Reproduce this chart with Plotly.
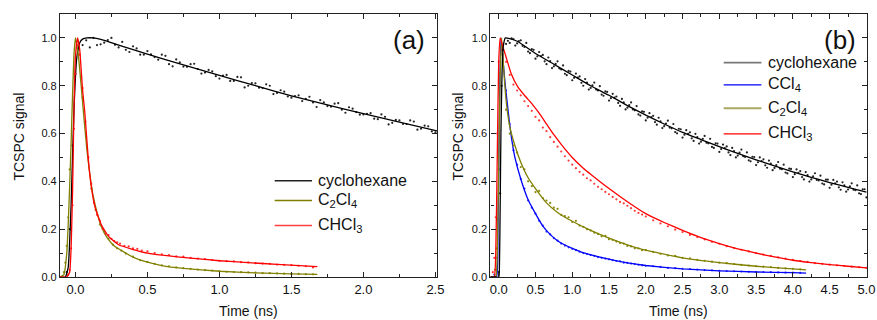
import plotly.graph_objects as go

# ---------------- Panel (a) data ----------------
a_cyc_fit_x = [-0.107, -0.07, -0.05, -0.03, -0.01, 0.01, 0.03, 0.05, 0.08, 0.12, 0.2, 0.3, 0.5, 0.75, 1.0, 1.25, 1.5, 1.75, 2.0, 2.25, 2.511]
a_cyc_fit_y = [0.0, 0.0, 0.04, 0.3, 0.7, 0.92, 0.98, 0.995, 1.0, 1.0, 0.99, 0.97, 0.932, 0.887, 0.843, 0.80, 0.758, 0.72, 0.683, 0.648, 0.611]
a_cyc_dot_x = [-0.06, -0.04, -0.02, 0.0, 0.05, 0.1, 0.15, 0.2, 0.25, 0.3, 0.35, 0.4, 0.45, 0.5, 0.55, 0.6, 0.65, 0.7, 0.75, 0.8, 0.85, 0.9, 0.95, 1.0,
               1.05, 1.1, 1.15, 1.2, 1.25, 1.3, 1.35, 1.4, 1.45, 1.5, 1.55, 1.6, 1.65, 1.7, 1.75, 1.8, 1.85, 1.9, 1.95, 2.0,
               2.05, 2.1, 2.15, 2.2, 2.25, 2.3, 2.35, 2.4, 2.45, 2.5,
               0.075, 0.125, 0.175, 0.225, 0.275, 0.325, 0.375, 0.425, 0.475, 0.525, 0.575, 0.625, 0.675, 0.725, 0.775, 0.825, 0.875, 0.925, 0.975,
               1.025, 1.075, 1.125, 1.175, 1.225, 1.275, 1.325, 1.375, 1.425, 1.475, 1.525, 1.575, 1.625, 1.675, 1.725, 1.775, 1.825, 1.875, 1.925, 1.975,
               2.025, 2.075, 2.125, 2.175, 2.225, 2.275, 2.325, 2.375, 2.425, 2.475]
a_cyc_dot_y = [0.02, 0.2, 0.55, 0.85, 0.97, 0.96, 0.97, 0.98, 1.0, 0.96, 0.95, 0.965, 0.93, 0.945, 0.92, 0.93, 0.89, 0.91, 0.88, 0.89, 0.87, 0.855, 0.86, 0.83,
               0.845, 0.82, 0.835, 0.80, 0.81, 0.79, 0.80, 0.77, 0.775, 0.75, 0.76, 0.745, 0.73, 0.74, 0.715, 0.725, 0.70, 0.71, 0.69, 0.68,
               0.685, 0.66, 0.67, 0.645, 0.655, 0.64, 0.65, 0.62, 0.63, 0.605,
               0.99, 1.0, 0.973, 0.991, 0.971, 0.983, 0.941, 0.956, 0.93, 0.931, 0.909, 0.925, 0.881, 0.898, 0.879, 0.892, 0.851, 0.866, 0.84,
               0.842, 0.82, 0.837, 0.793, 0.811, 0.792, 0.806, 0.765, 0.781, 0.755, 0.757, 0.736, 0.754, 0.711, 0.73, 0.712, 0.727, 0.687, 0.704, 0.679,
               0.682, 0.662, 0.68, 0.638, 0.657, 0.64, 0.655, 0.616, 0.633, 0.609]

a_c2cl4_fit_x = [-0.107, -0.08, -0.06, -0.05, -0.04, -0.03, -0.02, -0.01, 0.0, 0.02, 0.04, 0.06, 0.08, 0.1, 0.12, 0.15, 0.18, 0.22, 0.27, 0.3, 0.35, 0.4, 0.5, 0.6, 0.75, 1.0, 1.25, 1.5, 1.68]
a_c2cl4_fit_y = [0.0, 0.01, 0.1, 0.22, 0.38, 0.56, 0.76, 0.93, 1.0, 0.93, 0.8, 0.66, 0.53, 0.43, 0.35, 0.27, 0.21, 0.165, 0.13, 0.118, 0.10, 0.083, 0.062, 0.048, 0.036, 0.024, 0.017, 0.013, 0.011]
a_c2cl4_dot_x = [-0.09, -0.08, -0.07, -0.06, -0.05, -0.04, 0.02, 0.05, 0.08, 0.11, 0.14, 0.17, 0.2, 0.23, 0.26, 0.29, 0.32, 0.35, 0.4, 0.45, 0.5, 0.55, 0.6, 0.65, 0.7, 0.75, 0.8,
                 0.85, 0.9, 0.95, 1.0, 1.05, 1.1, 1.15, 1.2, 1.25, 1.3, 1.35, 1.4, 1.45, 1.5, 1.55, 1.6, 1.65]
a_c2cl4_dot_y = [0.0, 0.02, 0.06, 0.13, 0.25, 0.45, 0.93, 0.75, 0.54, 0.37, 0.28, 0.22, 0.19, 0.16, 0.135, 0.12, 0.11, 0.098, 0.085, 0.07, 0.063, 0.055, 0.049, 0.045, 0.04, 0.037, 0.034,
                 0.031, 0.029, 0.027, 0.025, 0.022, 0.021, 0.02, 0.019, 0.018, 0.016, 0.016, 0.015, 0.014, 0.013, 0.013, 0.012, 0.011]

a_chcl3_fit_x = [-0.107, -0.06, -0.04, -0.03, -0.02, -0.01, 0.0, 0.015, 0.03, 0.05, 0.065, 0.09, 0.11, 0.135, 0.18, 0.23, 0.3, 0.39, 0.5, 0.65, 0.8, 1.0, 1.2, 1.4, 1.68]
a_chcl3_fit_y = [0.0, 0.0, 0.02, 0.12, 0.35, 0.7, 0.92, 1.0, 0.95, 0.78, 0.69, 0.49, 0.38, 0.295, 0.218, 0.17, 0.135, 0.117, 0.10, 0.088, 0.079, 0.068, 0.06, 0.053, 0.043]
a_chcl3_dot_x = [-0.05, -0.04, -0.03, -0.02, -0.01, 0.0, 0.01, 0.03, 0.05, 0.07, 0.09, 0.11, 0.13, 0.15, 0.17, 0.19, 0.21, 0.23, 0.25, 0.27, 0.29, 0.31, 0.34, 0.37, 0.4,
                 0.43, 0.46, 0.5, 0.55, 0.6, 0.65, 0.7, 0.75, 0.8, 0.85, 0.9, 0.95, 1.0, 1.05, 1.1, 1.15, 1.2, 1.25, 1.3, 1.35, 1.4, 1.45, 1.5, 1.55, 1.6, 1.65]
a_chcl3_dot_y = [0.01, 0.03, 0.12, 0.3, 0.62, 0.85, 0.97, 0.93, 0.79, 0.65, 0.5, 0.39, 0.31, 0.26, 0.235, 0.2, 0.18, 0.175, 0.16, 0.15, 0.145, 0.14, 0.13, 0.128, 0.12,
                 0.118, 0.11, 0.107, 0.10, 0.095, 0.092, 0.086, 0.085, 0.08, 0.077, 0.075, 0.071, 0.068, 0.066, 0.065, 0.062, 0.061, 0.058, 0.056, 0.055, 0.052, 0.051, 0.05, 0.047, 0.045, 0.04]

# ---------------- Panel (b) data ----------------
b_cyc_fit_x = [-0.113, 0.0, 0.01, 0.02, 0.03, 0.045, 0.06, 0.09, 0.15, 0.26, 0.5, 0.75, 1.0, 1.25, 1.5, 1.75, 2.0, 2.25, 2.5, 2.75, 3.0, 3.25, 3.5, 3.75, 4.0, 4.25, 4.5, 4.75, 5.0]
b_cyc_fit_y = [0.0, 0.0, 0.05, 0.3, 0.6, 0.85, 0.96, 1.0, 0.997, 0.985, 0.935, 0.89, 0.845, 0.80, 0.76, 0.717, 0.677, 0.64, 0.605, 0.575, 0.545, 0.517, 0.49, 0.465, 0.44, 0.417, 0.395, 0.375, 0.355]
b_cyc_dot_x = [-0.05, 0.0, 0.02, 0.04, 0.06, 0.1, 0.15, 0.2, 0.25, 0.3, 0.35, 0.4, 0.45, 0.5, 0.55, 0.6, 0.65, 0.7, 0.75, 0.8, 0.85, 0.9, 0.95, 1.0,
               1.05, 1.1, 1.15, 1.2, 1.25, 1.3, 1.35, 1.4, 1.45, 1.5, 1.55, 1.6, 1.65, 1.7, 1.75, 1.8, 1.85, 1.9, 1.95, 2.0,
               2.05, 2.1, 2.15, 2.2, 2.25, 2.3, 2.35, 2.4, 2.45, 2.5, 2.55, 2.6, 2.65, 2.7, 2.75, 2.8, 2.85, 2.9, 2.95, 3.0,
               3.05, 3.1, 3.15, 3.2, 3.25, 3.3, 3.35, 3.4, 3.45, 3.5, 3.55, 3.6, 3.65, 3.7, 3.75, 3.8, 3.85, 3.9, 3.95, 4.0,
               4.05, 4.1, 4.15, 4.2, 4.25, 4.3, 4.35, 4.4, 4.45, 4.5, 4.55, 4.6, 4.65, 4.7, 4.75, 4.8, 4.85, 4.9, 4.95, 5.0,
               0.125, 0.175, 0.225, 0.275, 0.325, 0.375, 0.425, 0.475, 0.525, 0.575, 0.625, 0.675, 0.725, 0.775, 0.825, 0.875, 0.925, 0.975,
               1.025, 1.075, 1.125, 1.175, 1.225, 1.275, 1.325, 1.375, 1.425, 1.475, 1.525, 1.575, 1.625, 1.675, 1.725, 1.775, 1.825, 1.875, 1.925, 1.975,
               2.025, 2.075, 2.125, 2.175, 2.225, 2.275, 2.325, 2.375, 2.425, 2.475, 2.525, 2.575, 2.625, 2.675, 2.725, 2.775, 2.825, 2.875, 2.925, 2.975,
               3.025, 3.075, 3.125, 3.175, 3.225, 3.275, 3.325, 3.375, 3.425, 3.475, 3.525, 3.575, 3.625, 3.675, 3.725, 3.775, 3.825, 3.875, 3.925, 3.975,
               4.025, 4.075, 4.125, 4.175, 4.225, 4.275, 4.325, 4.375, 4.425, 4.475, 4.525, 4.575, 4.625, 4.675, 4.725, 4.775, 4.825, 4.875, 4.925, 4.975]
b_cyc_dot_y = [0.0, 0.02, 0.35, 0.8, 0.95, 0.975, 0.979, 0.995, 0.977, 0.99, 0.962, 0.943, 0.953, 0.913, 0.941, 0.929, 0.89, 0.903, 0.881, 0.902, 0.868, 0.85, 0.862, 0.823,
               0.851, 0.839, 0.80, 0.813, 0.791, 0.813, 0.78, 0.763, 0.776, 0.738, 0.766, 0.755, 0.716, 0.73, 0.708, 0.73, 0.697, 0.68, 0.693, 0.655,
               0.685, 0.674, 0.637, 0.651, 0.631, 0.654, 0.622, 0.606, 0.62, 0.583, 0.614, 0.605, 0.569, 0.585, 0.566, 0.59, 0.559, 0.544, 0.559, 0.523,
               0.554, 0.546, 0.51, 0.527, 0.508, 0.533, 0.502, 0.488, 0.503, 0.468, 0.50, 0.492, 0.457, 0.474, 0.456, 0.481, 0.451, 0.437, 0.453, 0.418,
               0.45, 0.443, 0.408, 0.426, 0.408, 0.434, 0.404, 0.391, 0.407, 0.373, 0.406, 0.399, 0.365, 0.383, 0.366, 0.392, 0.363, 0.35, 0.367, 0.333,
               0.988, 0.998, 0.968, 0.987, 0.967, 0.979, 0.936, 0.95, 0.923, 0.924, 0.902, 0.918, 0.874, 0.891, 0.872, 0.885, 0.844, 0.859,
               0.833, 0.834, 0.812, 0.828, 0.784, 0.802, 0.784, 0.798, 0.758, 0.774, 0.748, 0.75, 0.728, 0.745, 0.701, 0.719, 0.701, 0.715, 0.675, 0.691,
               0.666, 0.669, 0.648, 0.666, 0.623, 0.642, 0.625, 0.64, 0.601, 0.618, 0.595, 0.599, 0.58, 0.599, 0.558, 0.578, 0.562, 0.578, 0.54, 0.558,
               0.535, 0.539, 0.521, 0.54, 0.50, 0.52, 0.505, 0.521, 0.484, 0.502, 0.48, 0.485, 0.467, 0.487, 0.447, 0.468, 0.453, 0.47, 0.433, 0.452,
               0.43, 0.436, 0.418, 0.439, 0.399, 0.421, 0.406, 0.424, 0.387, 0.407, 0.386, 0.392, 0.375, 0.396, 0.357, 0.379, 0.365, 0.383, 0.347, 0.367]

b_ccl4_fit_x = [-0.113, -0.03, -0.01, 0.01, 0.03, 0.06, 0.09, 0.13, 0.17, 0.22, 0.3, 0.4, 0.5, 0.6, 0.72, 0.8, 0.9, 1.0, 1.17, 1.42, 1.75, 2.0, 2.5, 3.0, 3.5, 4.0, 4.18]
b_ccl4_fit_y = [0.0, 0.0, 0.2, 0.7, 1.0, 0.9, 0.8, 0.69, 0.59, 0.5, 0.41, 0.323, 0.265, 0.213, 0.172, 0.152, 0.134, 0.12, 0.10, 0.08, 0.059, 0.048, 0.034, 0.026, 0.021, 0.018, 0.016]
b_ccl4_dot_x = [-0.06, -0.04, -0.02, 0.0, 0.05, 0.1, 0.15, 0.2, 0.25, 0.3, 0.35, 0.4, 0.45, 0.5, 0.55, 0.6, 0.65, 0.7, 0.75, 0.8, 0.85, 0.9, 0.95, 1.0,
                1.05, 1.1, 1.15, 1.2, 1.25, 1.3, 1.35, 1.4, 1.45, 1.5, 1.55, 1.6, 1.65, 1.7, 1.75, 1.8, 1.85, 1.9, 1.95, 2.0,
                2.1, 2.2, 2.3, 2.4, 2.5, 2.6, 2.7, 2.8, 2.9, 3.0, 3.1, 3.2, 3.3, 3.4, 3.5, 3.6, 3.7, 3.8, 3.9, 4.0, 4.1]
b_ccl4_dot_y = [0.01, 0.08, 0.24, 0.45, 0.95, 0.78, 0.64, 0.53, 0.47, 0.41, 0.37, 0.32, 0.29, 0.265, 0.235, 0.215, 0.19, 0.178, 0.162, 0.152, 0.14, 0.131, 0.124, 0.118,
                0.112, 0.106, 0.10, 0.096, 0.092, 0.088, 0.083, 0.08, 0.077, 0.074, 0.07, 0.067, 0.065, 0.06, 0.059, 0.056, 0.054, 0.051, 0.049, 0.047,
                0.045, 0.042, 0.038, 0.037, 0.034, 0.033, 0.031, 0.029, 0.028, 0.026, 0.025, 0.024, 0.023, 0.022, 0.021, 0.021, 0.02, 0.019, 0.018, 0.018, 0.017]

b_c2cl4_fit_x = [-0.113, -0.04, -0.02, 0.0, 0.02, 0.04, 0.07, 0.1, 0.15, 0.22, 0.3, 0.4, 0.5, 0.65, 0.8, 1.0, 1.25, 1.5, 1.9, 2.5, 3.0, 3.5, 4.0, 4.18]
b_c2cl4_fit_y = [0.0, 0.0, 0.1, 0.45, 0.85, 1.0, 0.86, 0.74, 0.63, 0.55, 0.48, 0.415, 0.37, 0.31, 0.27, 0.233, 0.195, 0.163, 0.12, 0.08, 0.06, 0.045, 0.034, 0.03]
b_c2cl4_dot_x = [-0.05, -0.03, -0.01, 0.01, 0.05, 0.1, 0.15, 0.2, 0.25, 0.3, 0.35, 0.4, 0.45, 0.5, 0.55, 0.6, 0.65, 0.7, 0.75, 0.8, 0.85, 0.9, 0.95, 1.0,
                 1.05, 1.1, 1.15, 1.2, 1.25, 1.3, 1.35, 1.4, 1.45, 1.5, 1.55, 1.6, 1.65, 1.7, 1.75, 1.8, 1.85, 1.9, 1.95, 2.0,
                 2.1, 2.2, 2.3, 2.4, 2.5, 2.6, 2.7, 2.8, 2.9, 3.0, 3.1, 3.2, 3.3, 3.4, 3.5, 3.6, 3.7, 3.8, 3.9, 4.0, 4.1]
b_c2cl4_dot_y = [0.03, 0.12, 0.5, 0.85, 0.93, 0.70, 0.60, 0.55, 0.52, 0.46, 0.45, 0.40, 0.38, 0.355, 0.36, 0.33, 0.32, 0.31, 0.29, 0.285, 0.26, 0.255, 0.25, 0.23,
                 0.235, 0.215, 0.21, 0.20, 0.195, 0.185, 0.18, 0.17, 0.172, 0.158, 0.155, 0.148, 0.142, 0.14, 0.13, 0.128, 0.12, 0.12, 0.112, 0.112,
                 0.105, 0.097, 0.09, 0.088, 0.08, 0.078, 0.072, 0.068, 0.064, 0.06, 0.058, 0.054, 0.051, 0.048, 0.045, 0.043, 0.041, 0.038, 0.036, 0.034, 0.032]

b_chcl3_fit_x = [-0.113, -0.06, -0.04, -0.02, 0.0, 0.02, 0.05, 0.1, 0.17, 0.26, 0.35, 0.45, 0.55, 0.65, 0.75, 0.85, 1.0, 1.15, 1.25, 1.5, 1.75, 2.0, 2.25, 2.5, 2.75, 3.0, 3.25, 3.5, 3.75, 4.0, 4.25, 4.5, 4.75, 5.0]
b_chcl3_fit_y = [0.0, 0.0, 0.1, 0.5, 0.9, 1.0, 0.97, 0.92, 0.85, 0.795, 0.76, 0.725, 0.685, 0.64, 0.595, 0.555, 0.50, 0.455, 0.43, 0.37, 0.315, 0.265, 0.228, 0.195, 0.165, 0.14, 0.118, 0.10, 0.084, 0.07, 0.06, 0.052, 0.045, 0.038]
b_chcl3_dot_x = [-0.08, -0.06, -0.04, -0.02, 0.0, 0.05, 0.1, 0.15, 0.2, 0.25, 0.3, 0.35, 0.4, 0.45, 0.5, 0.55, 0.6, 0.65, 0.7, 0.75, 0.8, 0.85, 0.9, 0.95, 1.0,
                 1.05, 1.1, 1.15, 1.2, 1.25, 1.3, 1.35, 1.4, 1.45, 1.5, 1.55, 1.6, 1.65, 1.7, 1.75, 1.8, 1.85, 1.9, 1.95, 2.0,
                 2.1, 2.2, 2.3, 2.4, 2.5, 2.6, 2.7, 2.8, 2.9, 3.0, 3.1, 3.2, 3.3, 3.4, 3.5, 3.6, 3.7, 3.8, 3.9, 4.0,
                 4.1, 4.2, 4.3, 4.4, 4.5, 4.6, 4.7, 4.8, 4.9, 5.0]
b_chcl3_dot_y = [0.02, 0.08, 0.25, 0.6, 0.9, 0.95, 0.90, 0.845, 0.805, 0.78, 0.76, 0.735, 0.715, 0.695, 0.67, 0.655, 0.625, 0.61, 0.585, 0.565, 0.545, 0.525, 0.505, 0.487, 0.47,
                 0.455, 0.44, 0.428, 0.413, 0.404, 0.39, 0.377, 0.367, 0.356, 0.346, 0.335, 0.325, 0.314, 0.308, 0.298, 0.288, 0.277, 0.268, 0.261, 0.253,
                 0.237, 0.224, 0.212, 0.198, 0.188, 0.176, 0.167, 0.157, 0.147, 0.139, 0.129, 0.121, 0.114, 0.107, 0.10, 0.094, 0.088, 0.082, 0.077, 0.072,
                 0.067, 0.063, 0.058, 0.055, 0.052, 0.049, 0.046, 0.043, 0.041, 0.038]

# ---------------- Text ----------------
legend_a = ["cyclohexane", "C<sub>2</sub>Cl<sub>4</sub>", "CHCl<sub>3</sub>"]
legend_b = ["cyclohexane", "CCl<sub>4</sub>", "C<sub>2</sub>Cl<sub>4</sub>", "CHCl<sub>3</sub>"]
panel_labels = ["(a)", "(b)"]
x_title = "Time (ns)"
y_title = "TCSPC signal"

# ---------------- Styles ----------------
BLACK = "#000000"
OLIVE = "#808000"
RED = "#ff0000"
BLUE = "#0000ff"
FONT = "Liberation Sans"
W, H = 877, 320
ML, MR, MT, MB = 60.3, 9.7, 14.0, 42.7
PW, PH = W - ML - MR, H - MT - MB

fig = go.Figure()


def add_series(xd, yd, xf, yf, color, dotcolor, xa, ya):
    fig.add_trace(go.Scatter(x=xd, y=yd, mode="markers", xaxis=xa, yaxis=ya,
                             marker=dict(size=2.2, color=dotcolor), showlegend=False, hoverinfo="skip"))
    fig.add_trace(go.Scatter(x=xf, y=yf, mode="lines", xaxis=xa, yaxis=ya,
                             line=dict(color=color, width=1.3, shape="spline", smoothing=0.4), showlegend=False))


# panel a
add_series(a_cyc_dot_x, a_cyc_dot_y, a_cyc_fit_x, a_cyc_fit_y, BLACK, "#222222", "x", "y")
add_series(a_c2cl4_dot_x, a_c2cl4_dot_y, a_c2cl4_fit_x, a_c2cl4_fit_y, OLIVE, "#8a8a10", "x", "y")
add_series(a_chcl3_dot_x, a_chcl3_dot_y, a_chcl3_fit_x, a_chcl3_fit_y, RED, "#ff3030", "x", "y")
# panel b
add_series(b_ccl4_dot_x, b_ccl4_dot_y, b_ccl4_fit_x, b_ccl4_fit_y, BLUE, "#3a3aff", "x2", "y2")
add_series(b_c2cl4_dot_x, b_c2cl4_dot_y, b_c2cl4_fit_x, b_c2cl4_fit_y, OLIVE, "#8a8a10", "x2", "y2")
add_series(b_chcl3_dot_x, b_chcl3_dot_y, b_chcl3_fit_x, b_chcl3_fit_y, RED, "#ff3a3a", "x2", "y2")
add_series(b_cyc_dot_x, b_cyc_dot_y, b_cyc_fit_x, b_cyc_fit_y, BLACK, "#222222", "x2", "y2")


def fx(X):
    return (X - ML) / PW


def fy(Y):
    return (H - MB - Y) / PH


xa_dom = [0.0, fx(437.3)]
xb_dom = [fx(490.7), 1.0]

common_x = dict(showline=True, linecolor="#222", linewidth=1.2, mirror="allticks", ticks="inside", ticklen=5,
                tickcolor="#222", tickwidth=1, showgrid=False, zeroline=False, tickformat=".1f", dtick=0.5, tick0=0,
                automargin=False, tickfont=dict(family=FONT, size=13, color="#111"),
                minor=dict(ticks="inside", ticklen=3, tickcolor="#222", dtick=0.25, showgrid=False))
common_y = dict(showline=True, linecolor="#222", linewidth=1.2, mirror="allticks", ticks="inside", ticklen=5,
                tickcolor="#222", tickwidth=1, showgrid=False, zeroline=False, tickformat=".1f", dtick=0.2, tick0=0,
                automargin=False, tickfont=dict(family=FONT, size=11, color="#111"), range=[0, 1.1],
                minor=dict(ticks="inside", ticklen=3, tickcolor="#222", dtick=0.1, showgrid=False))

fig.update_layout(
    width=W, height=H, margin=dict(l=ML, r=MR, t=MT, b=MB, pad=0),
    paper_bgcolor="white", plot_bgcolor="white", showlegend=False,
    font=dict(family=FONT, color="#111"),
    xaxis=dict(domain=xa_dom, range=[-0.107, 2.511], anchor="y", **common_x),
    yaxis=dict(domain=[0, 1], anchor="x", **common_y),
    xaxis2=dict(domain=xb_dom, range=[-0.113, 5.008], anchor="y2", **common_x),
    yaxis2=dict(domain=[0, 1], anchor="x2", **common_y),
)

ann = []
shapes = []

# axis titles
for cx in [248.8, 679.0]:
    ann.append(dict(text=x_title, x=fx(cx), y=fy(311.5), xref="paper", yref="paper", showarrow=False,
                    xanchor="center", yanchor="middle", font=dict(family=FONT, size=14, color="#111")))
for cx in [19.0, 458.0]:
    ann.append(dict(text=y_title, x=fx(cx), y=fy(137.0), xref="paper", yref="paper", showarrow=False, textangle=-90,
                    xanchor="center", yanchor="middle", font=dict(family=FONT, size=14, color="#111")))

# panel labels
for lab, (cx, cy) in zip(panel_labels, [(409.7, 40.5), (840.0, 40.5)]):
    ann.append(dict(text=lab, x=fx(cx), y=fy(cy), xref="paper", yref="paper", showarrow=False,
                    xanchor="center", yanchor="middle", font=dict(family=FONT, size=26, color="#111")))

# legends (drawn manually)
leg_a_cols = ["#222222", OLIVE, "#ff4040"]
leg_a_rows = [181.0, 200.7, 225.7]
for txt, col, yy in zip(legend_a, leg_a_cols, leg_a_rows):
    shapes.append(dict(type="line", xref="paper", yref="paper", x0=fx(275.0), x1=fx(312.3), y0=fy(yy), y1=fy(yy),
                       line=dict(color=col, width=1.6)))
    ann.append(dict(text=txt, x=fx(316.7), y=fy(yy), xref="paper", yref="paper", showarrow=False,
                    xanchor="left", yanchor="middle", font=dict(family=FONT, size=16, color="#111")))

leg_b_cols = ["#777777", BLUE, "#a8a860", RED]
leg_b_widths = [1.9, 1.3, 1.9, 1.3]
leg_b_rows = [62.7, 85.0, 108.3, 134.0]
for txt, col, lw, yy in zip(legend_b, leg_b_cols, leg_b_widths, leg_b_rows):
    shapes.append(dict(type="line", xref="paper", yref="paper", x0=fx(724.0), x1=fx(761.7), y0=fy(yy), y1=fy(yy),
                       line=dict(color=col, width=lw)))
    ann.append(dict(text=txt, x=fx(766.0), y=fy(yy), xref="paper", yref="paper", showarrow=False,
                    xanchor="left", yanchor="middle", font=dict(family=FONT, size=16, color="#111")))

fig.update_layout(annotations=ann, shapes=shapes)
fig.write_html("out.html", config={"displayModeBar": False},
               post_script="document.body.style.margin='0px';document.body.style.overflow='hidden';")
